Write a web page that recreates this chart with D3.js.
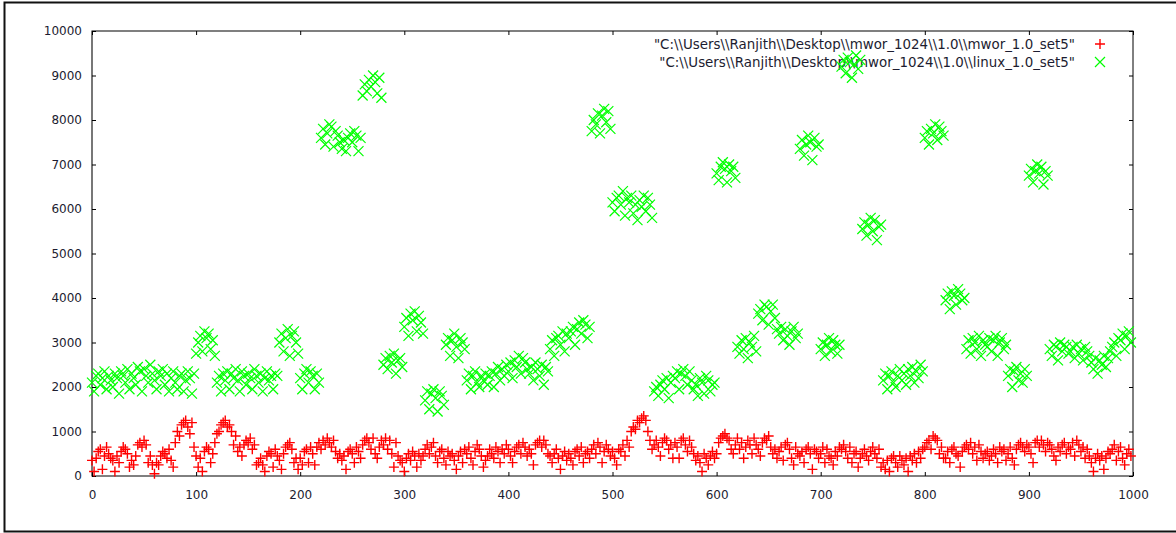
<!DOCTYPE html>
<html><head><meta charset="utf-8">
<script src="https://cdn.jsdelivr.net/npm/d3@7"></script>
<style>body{margin:0;background:#fff;overflow:hidden}</style>
</head><body><svg id="c" width="1176" height="533"></svg>
<script>
// sample index (x) for every stored value
const sampleIndex = d3.range(0, 1000, 2);

// red "+" series : mwor_1.0_set5
const mworValues = [
 350,100,400,550,600,150,450,650,500,400,
 350,100,450,300,550,650,600,500,200,350,
 250,450,700,750,650,800,700,300,450,250,
 50,300,250,450,550,500,400,600,350,200,
 750,1000,900,1150,1200,1250,1100,950,1200,650,
 450,200,400,100,550,650,600,300,500,750,
 950,1000,1150,1200,1250,1100,1150,1000,700,900,
 550,650,450,700,800,750,850,600,700,250,
 300,400,250,100,450,550,500,200,600,450,
 350,150,500,650,700,750,600,300,400,150,
 400,250,550,600,300,650,500,250,650,750,
 600,800,700,850,750,650,800,550,400,500,
 350,450,150,550,600,500,300,650,550,400,
 700,800,850,750,600,850,500,400,650,800,
 700,850,600,800,500,200,750,450,350,300,
 100,400,500,350,550,450,200,500,350,450,
 600,700,500,650,750,450,300,550,600,400,
 250,550,450,500,350,150,450,550,300,600,
 500,650,400,250,550,700,600,450,200,350,
 450,600,500,400,650,550,300,600,500,700,
 600,450,300,550,650,700,500,750,650,450,
 600,500,250,700,750,800,650,800,700,500,
 450,300,500,600,400,150,450,550,350,500,
 400,250,550,600,450,650,300,500,550,400,
 600,700,500,750,650,300,550,700,600,450,
 550,400,250,600,550,700,450,800,650,1000,
 1100,1050,1250,1200,1300,1350,1250,1000,800,600,
 700,800,650,450,750,850,800,600,700,400,
 750,650,400,800,850,700,550,800,650,500,
 350,450,300,100,500,400,250,450,550,400,
 500,750,850,900,950,850,800,600,500,700,
 850,600,750,400,650,800,700,500,850,700,
 600,450,750,850,800,900,650,500,600,400,
 550,650,350,700,750,600,400,250,650,500,
 450,550,300,600,650,500,150,600,550,400,
 500,650,300,600,450,400,250,550,450,650,
 600,700,550,400,650,300,500,550,200,400,
 500,600,450,350,550,650,500,400,600,200,
 300,150,350,100,400,450,300,200,450,350,
 250,400,100,450,350,500,300,550,400,600,
 650,750,800,600,900,850,800,500,650,400,
 400,550,300,600,650,500,450,200,550,650,
 700,600,750,500,650,350,700,550,400,500,
 550,350,450,600,500,300,650,550,600,350,
 500,650,400,250,600,700,750,650,550,700,
 650,500,300,750,800,650,800,700,550,750,
 700,600,450,350,650,550,700,750,500,650,
 600,750,450,800,700,550,650,400,600,450,
 300,100,400,500,350,450,150,400,550,500,
 600,700,350,550,650,400,250,500,600,450
];

// green "x" series : linux_1.0_set5
const linuxValues = [
 2100,1900,2250,2300,2050,2200,2350,1950,2250,2150,
 2000,2300,2200,1850,2350,2250,2100,2400,1950,2300,
 2200,2050,2450,2350,1900,2400,2250,2100,2500,2300,
 2150,1950,2350,2250,2400,2050,2300,1900,2200,2350,
 2100,1950,2250,2300,1900,2150,2350,2200,1850,2300,
 2750,3000,3150,2800,3250,3100,3200,2850,3050,2700,
 2100,2250,1900,2300,2150,2350,1950,2300,2200,2400,
 2150,1900,2350,2250,2050,2300,2200,1950,2400,2250,
 2100,2300,1900,2200,2350,2150,2250,1950,2300,2250,
 3000,3200,2800,3100,3300,2700,3150,3250,3000,2750,
 2200,1950,2300,2400,2100,2350,2250,1950,2300,2100,
 7600,7800,7450,7700,7900,7850,7400,7750,7650,7500,
 7350,7550,7300,7600,7700,7500,7750,7650,7300,7600,
 8550,8800,8650,8900,8750,9000,8850,8600,8950,8500,
 2500,2650,2400,2700,2550,2750,2300,2600,2650,2450,
 3350,3550,3150,3650,3500,3700,3250,3600,3450,3200,
 1700,1900,1500,1850,1950,1750,1450,1900,1800,1600,
 2950,3100,2700,3050,3200,2900,2650,3100,3000,2850,
 2150,2300,1950,2250,2350,2100,2000,2250,2150,2300,
 2050,2250,2350,2000,2300,2450,2150,2400,2250,2500,
 2350,2550,2200,2600,2450,2700,2300,2650,2550,2400,
 2300,2450,2150,2550,2400,2250,2500,2050,2450,2350,
 2850,3050,2700,3100,3150,2950,3250,2800,3200,3100,
 3250,3350,2950,3300,3450,3200,3500,3400,3100,3350,
 7750,8000,7900,8150,7700,8100,8250,7950,8200,7800,
 6150,5950,6250,6300,6100,6400,5850,6250,6150,6300,
 5900,6100,5750,6200,6050,6300,5950,6250,6100,5800,
 1900,2000,1800,2050,2150,1950,2200,1750,2100,2250,
 2200,2350,1950,2300,2400,2250,2050,2350,2150,1950,
 2050,1800,2200,2100,1850,2250,2150,1900,2050,2100,
 6800,6650,6950,7050,6900,6600,7000,6850,6950,6700,
 2900,2750,3050,2850,3100,2650,3000,2900,3150,2800,
 3650,3750,3500,3850,3800,3400,3700,3850,3550,3300,
 3200,3350,3050,3300,3150,2950,3250,3350,3100,3200,
 7350,7550,7200,7450,7650,7500,7100,7600,7400,7450,
 2850,3000,2700,2950,3100,2800,3050,2950,2750,2950,
 9200,9350,9050,9400,9300,8950,9250,9450,9150,9350,
 5550,5700,5400,5650,5800,5500,5750,5300,5600,5650,
 2150,2300,1950,2250,2350,2100,2000,2250,2400,2150,
 2300,2050,2400,2250,2450,2100,2350,2200,2500,2350,
 7600,7750,7450,7800,7700,7900,7550,7850,7750,7650,
 3950,4100,3750,4150,4050,3850,4200,4100,3950,4000,
 2850,3050,2750,3100,3000,2850,3150,2700,3050,2950,
 2900,3100,2800,3050,3150,2700,3000,3100,2850,2950,
 2250,2400,2000,2350,2450,2150,2300,2100,2400,2250,
 6750,6900,6600,6850,7000,6800,6950,6550,6850,6750,
 2850,2700,2950,2900,2600,3000,2800,2950,2900,2750,
 2800,2900,2650,2950,2750,2850,2600,2900,2800,2700,
 2550,2400,2650,2300,2600,2500,2700,2450,2650,2800,
 2900,3000,2700,3100,3050,3200,2850,3150,3250,3000
];

const xTicks = [0,100,200,300,400,500,600,700,800,900,1000];
const yTicks = [0,1000,2000,3000,4000,5000,6000,7000,8000,9000,10000];
const seriesNames = [
  String.raw`"C:\\Users\\Ranjith\\Desktop\\mwor_1024\\1.0\\mwor_1.0_set5"`,
  String.raw`"C:\\Users\\Ranjith\\Desktop\\mwor_1024\\1.0\\linux_1.0_set5"`
];

const svg = d3.select('#c');
const L = 92, R = 1133, T = 31, B = 476;
const x = d3.scaleLinear().domain([0, 1000]).range([L, R]);
const y = d3.scaleLinear().domain([0, 10000]).range([B, T]);
const font = '"DejaVu Sans", Verdana, sans-serif';
const txt = '#1c1c30';

// outer window frame (left, top, bottom edges)
svg.append('path').attr('d', 'M1176,2.5H4.5V531.5H1176')
  .attr('fill', 'none').attr('stroke', '#111').attr('stroke-width', 2);

// plot border
svg.append('rect').attr('x', L).attr('y', T).attr('width', R - L).attr('height', B - T)
  .attr('fill', 'none').attr('stroke', '#000').attr('stroke-width', 1);
svg.append('line').attr('x1', L).attr('x2', L).attr('y1', T).attr('y2', B)
  .attr('stroke', '#777').attr('stroke-width', 2);

function styleAxis(g, labels) {
  g.select('.domain').remove();
  g.selectAll('.tick line').attr('stroke', '#000');
  g.selectAll('.tick text').attr('fill', txt).style('font-family', font).style('font-size', '12px');
  if (!labels) g.selectAll('.tick text').remove();
}
svg.append('g').attr('transform', `translate(0,${B})`)
  .call(d3.axisBottom(x).tickValues(xTicks).tickSize(-4).tickPadding(14).tickFormat(d3.format('d')))
  .call(g => styleAxis(g, true));
svg.append('g').attr('transform', `translate(0,${T})`)
  .call(d3.axisTop(x).tickValues(xTicks).tickSize(-4))
  .call(g => styleAxis(g, false));
svg.append('g').attr('transform', `translate(${L},0)`)
  .call(d3.axisLeft(y).tickValues(yTicks).tickSize(-4).tickPadding(10).tickFormat(d3.format('d')))
  .call(g => styleAxis(g, true));
svg.append('g').attr('transform', `translate(${R},0)`)
  .call(d3.axisRight(y).tickValues(yTicks).tickSize(-4))
  .call(g => styleAxis(g, false));

const plusPath = 'M-5,0H5M0,-5V5';
const crossPath = 'M-5,-5L5,5M-5,5L5,-5';
const series = [
  {name: seriesNames[0], values: mworValues, color: '#ff0000', path: plusPath, sw: 1.4},
  {name: seriesNames[1], values: linuxValues, color: '#00ff00', path: crossPath, sw: 1.2}
];

// legend
const leg = svg.append('g');
series.forEach((s, i) => {
  const ly = 44 + i * 18;
  leg.append('text').attr('x', 1075).attr('y', ly).attr('dy', '0.35em')
    .attr('text-anchor', 'end').attr('fill', txt)
    .style('font-family', font).style('font-size', '13.4px').text(s.name);
  leg.append('path').attr('d', s.path).attr('transform', `translate(1100,${ly})`)
    .attr('stroke', s.color).attr('fill', 'none').attr('stroke-width', s.sw);
});

// points
series.forEach(s => {
  svg.append('g').selectAll('path').data(s.values).join('path')
    .attr('d', s.path)
    .attr('transform', (d, i) => `translate(${x(sampleIndex[i])},${y(d)})`)
    .attr('stroke', s.color).attr('fill', 'none').attr('stroke-width', s.sw);
});
</script></body></html>
